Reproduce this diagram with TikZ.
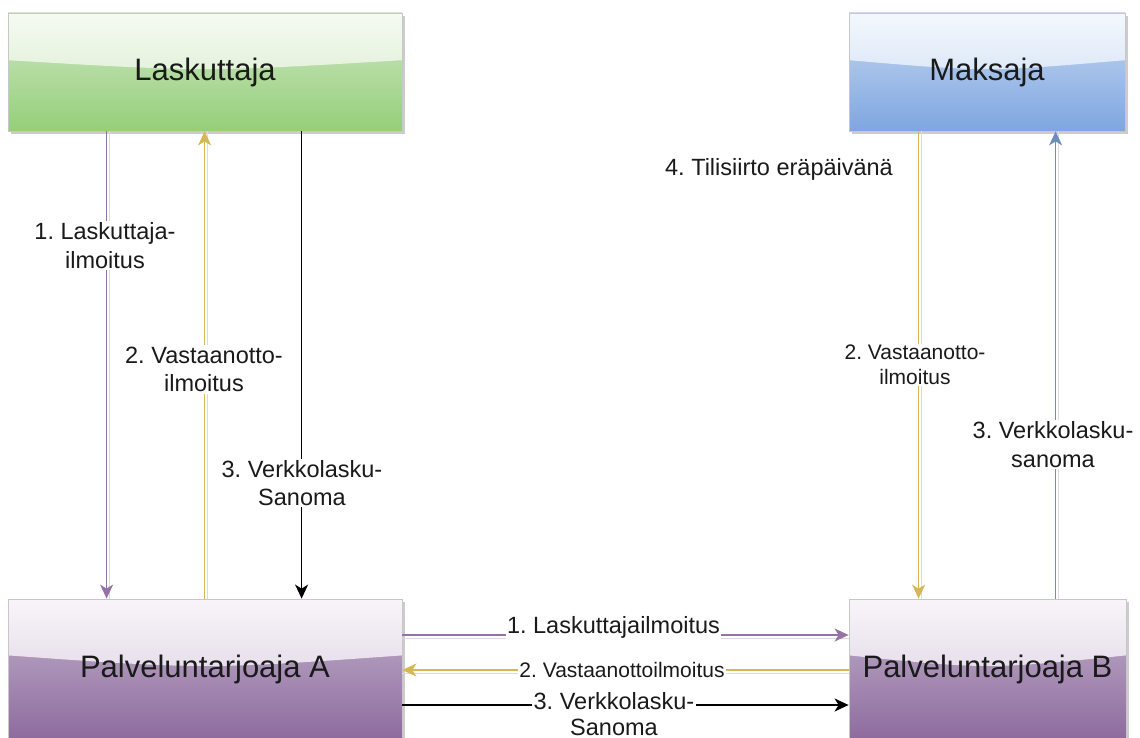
\documentclass[tikz,border=0pt]{standalone}
\usepackage{fontspec}
\setmainfont{Liberation Sans}
\usetikzlibrary{arrows.meta,shadows,calc}
\definecolor{gtop}{HTML}{CFE7C5}\definecolor{gbot}{HTML}{95CF79}
\definecolor{gglt}{HTML}{F5FAF2}\definecolor{gglb}{HTML}{D3EAC6}
\definecolor{btop}{HTML}{C7D9F2}\definecolor{bbot}{HTML}{7EA6E0}
\definecolor{bglt}{HTML}{F4F8FD}\definecolor{bglb}{HTML}{C6D8F2}
\definecolor{ptop}{HTML}{C4B4CE}\definecolor{pbot}{HTML}{8D6B9D}
\definecolor{pglt}{HTML}{F8F5F9}\definecolor{pglb}{HTML}{D6C8DD}
\definecolor{cpurple}{HTML}{9673A6}
\definecolor{cgold}{HTML}{D6B656}
\definecolor{cblue}{HTML}{6C8EBF}
\definecolor{ctext}{HTML}{1A1A1A}
\tikzset{
  glass/.style 2 args={path picture={
    \shade[top color=#1,bottom color=#2]
      (path picture bounding box.north west)
      -- ($(path picture bounding box.north west)!0.4!(path picture bounding box.south west)$)
      .. controls ($(path picture bounding box.north)!0.5!(path picture bounding box.south)$)
      .. ($(path picture bounding box.north east)!0.4!(path picture bounding box.south east)$)
      -- (path picture bounding box.north east) -- cycle;}},
  actor/.style={draw=black!22, line width=0.8pt, inner sep=0pt,
    font=\fontsize{31}{37}\selectfont, text=ctext,
    drop shadow={shadow xshift=3pt, shadow yshift=-3pt, fill=black, opacity=0.2}},
  conn/.style={line width=1.5pt, -{Stealth[length=14pt,width=13pt,inset=4pt]}},
  connshadow/.style={line width=1.3pt, draw=black!14},
  lbl/.style={fill=white, inner sep=1.5pt, align=center, text=ctext,
    font=\fontsize{23.5}{28.5}\selectfont},
  lbls/.style={lbl, font=\fontsize{21}{25}\selectfont}
}
\frenchspacing
\begin{document}
\begin{tikzpicture}[x=1pt,y=-1pt]
\useasboundingbox (0,0) rectangle (1140,738);
% boxes
\node[actor, top color=gtop, bottom color=gbot, glass={gglt}{gglb},
  minimum width=394pt, minimum height=118pt] (las) at (205,72) {Laskuttaja};
\node[actor, top color=btop, bottom color=bbot, glass={bglt}{bglb},
  minimum width=276pt, minimum height=118pt] (mak) at (987,72) {Maksaja};
\node[actor, top color=ptop, bottom color=pbot, glass={pglt}{pglb},
  minimum width=394pt, minimum height=141pt] (pa) at (205,669.5) {Palveluntarjoaja A};
\node[actor, top color=ptop, bottom color=pbot, glass={pglt}{pglb},
  minimum width=277pt, minimum height=141pt] (pb) at (987.5,669.5) {Palveluntarjoaja B};
% connector shadows
\draw[connshadow] ([xshift=102pt]las.south west) -- ([xshift=102pt]pa.north west);
\draw[connshadow] ([xshift=200pt]pa.north west) -- ([xshift=200pt]las.south west);
\draw[connshadow] ([xshift=73pt]mak.south west) -- ([xshift=73pt]pb.north west);
\draw[connshadow] ([xshift=210pt]pb.north west) -- ([xshift=210pt]mak.south west);
\draw[connshadow] ([yshift=31pt]pa.east) -- ([yshift=31pt]pb.west);
\draw[connshadow] ([yshift=-4pt]pb.west) -- ([yshift=-4pt]pa.east);
% connectors
\draw[conn, cpurple] ([xshift=99pt]las.south west) -- ([xshift=99pt]pa.north west);
\draw[conn, cgold] ([xshift=197pt]pa.north west) -- ([xshift=197pt]las.south west);
\draw[conn, black] ([xshift=294pt]las.south west) -- ([xshift=294pt]pa.north west);
\draw[conn, cgold] ([xshift=70pt]mak.south west) -- ([xshift=70pt]pb.north west);
\draw[conn, cblue] ([xshift=207pt]pb.north west) -- ([xshift=207pt]mak.south west);
\draw[conn, cpurple] ([yshift=34.5pt]pa.east) -- ([yshift=34.5pt]pb.west);
\draw[conn, cgold] ([yshift=-0.5pt]pb.west) -- ([yshift=-0.5pt]pa.east);
\draw[conn, black] ([yshift=-35.5pt]pa.east) -- ([yshift=-35.5pt]pb.west);
% labels
\node[lbl] (l1) at (105,245.5) {1. Laskuttaja-\\ilmoitus};
\node[lbl] (l2) at (204,369.5) {2. Vastaanotto-\\ilmoitus};
\node[lbl] (l3) at (302,483) {3. Verkkolasku-\\Sanoma};
\node[lbls] (r2) at (915,365) {2. Vastaanotto-\\ilmoitus};
\node[lbl] (r3) at (1053,444.5) {3. Verkkolasku-\\sanoma};
\node[lbl] (t4) at (779,169) {4. Tilisiirto eräpäivänä};
\node[lbl, inner ysep=3pt] (h1) at (613.5,627.5) {1. Laskuttajailmoitus};
\node[lbls] (h2) at (622,670) {2. Vastaanottoilmoitus};
\node[lbl, font=\fontsize{23.5}{26}\selectfont] (h3) at (614,714) {3. Verkkolasku-\\Sanoma};
\end{tikzpicture}
\end{document}
